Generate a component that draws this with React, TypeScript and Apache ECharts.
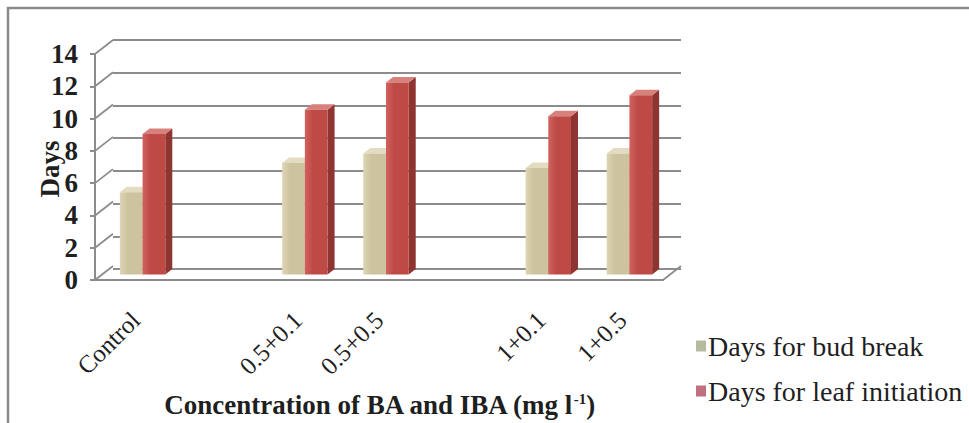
import React, { useEffect, useRef } from "react";
import * as echarts from "echarts";

// Treatments (empty slots keep the gaps between treatment groups)
const categories = ["Control", "", "0.5+0.1", "0.5+0.5", "", "1+0.1", "1+0.5"];
const budBreak = [5.1, null, 6.9, 7.5, null, 6.6, 7.5];
const leafInitiation = [8.7, null, 10.2, 11.9, null, 9.8, 11.1];
const yTicks = [0, 2, 4, 6, 8, 10, 12, 14];
const seriesNames = ["Days for bud break", "Days for leaf initiation"];

const SERIF = "'Liberation Serif', 'Times New Roman', serif";
const GRID_GRAY = "#8c8c8c";
const INK = "#1f1f1f";

// Depth of the back wall relative to the front plane
const WALL_DX = 18;
const WALL_DY = -14;
// Where the bars stand inside that depth, and how deep each bar is
const BAR_SHIFT_X = 7;
const BAR_SHIFT_Y = -5.5;
const BAR_DEPTH_X = 7;
const BAR_DEPTH_Y = -5.5;
const BAR_RATIO = 0.28;

type Palette = { front: [string, string]; side: string; top: string; legend: string };

const palettes: Palette[] = [
  { front: ["#ddd5b4", "#cdc39e"], side: "#a89f7e", top: "#e3dcc2", legend: "#b8ba9f" },
  { front: ["#d0625e", "#be4a46"], side: "#8e3431", top: "#d8817c", legend: "#c06f7d" },
];

const toData = (values: (number | null)[]) =>
  values
    .map((v, i) => (v == null ? null : [i, v]))
    .filter((d) => d !== null) as number[][];

const makeBarRenderer = (slot: number, pal: Palette) => (params: any, api: any) => {
  const idx = api.value(0);
  const v = api.value(1);
  const base = api.coord([idx, 0]);
  const top = api.coord([idx, v]);
  const band = api.size([1, 0])[0];
  const w = band * BAR_RATIO;
  const cx = base[0] + BAR_SHIFT_X;
  const x0 = slot === 0 ? cx - w : cx;
  const x1 = x0 + w;
  const yb = base[1] + BAR_SHIFT_Y;
  const yt = top[1] + BAR_SHIFT_Y;
  return {
    type: "group",
    children: [
      {
        type: "polygon",
        shape: {
          points: [
            [x1, yb],
            [x1 + BAR_DEPTH_X, yb + BAR_DEPTH_Y],
            [x1 + BAR_DEPTH_X, yt + BAR_DEPTH_Y],
            [x1, yt],
          ],
        },
        style: { fill: pal.side },
      },
      {
        type: "polygon",
        shape: {
          points: [
            [x0, yt],
            [x1, yt],
            [x1 + BAR_DEPTH_X, yt + BAR_DEPTH_Y],
            [x0 + BAR_DEPTH_X, yt + BAR_DEPTH_Y],
          ],
        },
        style: { fill: pal.top },
      },
      {
        type: "rect",
        shape: { x: x0, y: yt, width: w, height: yb - yt },
        style: {
          fill: new echarts.graphic.LinearGradient(0, 0, 1, 0, [
            { offset: 0, color: pal.front[0] },
            { offset: 0.35, color: pal.front[1] },
            { offset: 1, color: pal.front[1] },
          ]),
        },
      },
    ],
  };
};

// Slanted lines joining the front axis ticks to the back wall, plus the floor edge
const renderWallEdges = (params: any, api: any) => {
  const v = api.value(1);
  const y = api.coord([0, v])[1];
  const cs = params.coordSys;
  const x = cs.x;
  const style = { stroke: GRID_GRAY, lineWidth: 1.8 };
  const children: any[] = [
    { type: "line", shape: { x1: x, y1: y, x2: x + WALL_DX, y2: y + WALL_DY }, style },
  ];
  if (v === 0) {
    const xr = cs.x + cs.width;
    children.push({
      type: "line",
      shape: { x1: xr, y1: y, x2: xr + WALL_DX, y2: y + WALL_DY },
      style,
    });
  }
  return { type: "group", children };
};

export default function App() {
  const ref = useRef<HTMLDivElement>(null);

  useEffect(() => {
    if (!ref.current) return;
    const chart = echarts.init(ref.current, undefined, { renderer: "svg" });

    const front = { left: 95, right: 306, top: 54, bottom: 140 };
    const back = {
      left: front.left + WALL_DX,
      right: front.right - WALL_DX,
      top: front.top + WALL_DY,
      bottom: front.bottom - WALL_DY,
    };

    chart.setOption({
      animation: false,
      backgroundColor: "#ffffff",
      grid: [
        { ...front, containLabel: false },
        { ...back, containLabel: false },
      ],
      xAxis: [
        {
          type: "category",
          gridIndex: 0,
          data: categories,
          boundaryGap: true,
          axisLine: { lineStyle: { color: GRID_GRAY, width: 2 } },
          axisTick: { show: false },
          axisLabel: {
            interval: 0,
            rotate: 45,
            margin: 36,
            fontSize: 25,
            fontFamily: SERIF,
            color: INK,
          },
          name: "{t|Concentration of BA and IBA (mg l}{s|-1}{t|)}",
          nameLocation: "middle",
          nameGap: 111,
          nameTextStyle: {
            rich: {
              t: { fontSize: 27, fontWeight: "bold", fontFamily: SERIF, color: INK },
              s: {
                fontSize: 15,
                fontWeight: "bold",
                fontFamily: SERIF,
                color: INK,
                verticalAlign: "top",
              },
            },
          },
        },
        { type: "value", gridIndex: 1, show: false, min: 0, max: 1 },
      ],
      yAxis: [
        {
          type: "value",
          gridIndex: 0,
          min: 0,
          max: 14,
          interval: 2,
          axisLine: { show: true, lineStyle: { color: GRID_GRAY, width: 2 } },
          axisTick: { show: true, length: 5, lineStyle: { color: GRID_GRAY, width: 2 } },
          splitLine: { show: false },
          axisLabel: {
            margin: 17,
            fontSize: 27,
            fontWeight: "bold",
            fontFamily: SERIF,
            color: INK,
          },
        },
        {
          type: "value",
          gridIndex: 1,
          min: 0,
          max: 14,
          interval: 2,
          axisLine: { show: false },
          axisTick: { show: false },
          axisLabel: { show: false },
          splitLine: { show: true, lineStyle: { color: GRID_GRAY, width: 2 } },
        },
      ],
      legend: {
        orient: "vertical",
        left: 691,
        top: 327,
        itemWidth: 10,
        itemHeight: 11,
        itemGap: 17,
        icon: "rect",
        textStyle: { fontSize: 28, fontFamily: SERIF, color: INK, padding: [0, 0, 0, -3] },
        data: seriesNames.map((name, i) => ({ name, itemStyle: { color: palettes[i].legend } })),
      },
      graphic: [
        {
          type: "rect",
          shape: { x: 8, y: 8, width: 990, height: 440 },
          style: { fill: "none", stroke: "#8a8a8a", lineWidth: 2.5 },
          silent: true,
        },
        {
          type: "text",
          x: 50,
          y: 169,
          rotation: Math.PI / 2,
          style: {
            text: "Days",
            fontSize: 27,
            fontWeight: "bold",
            fontFamily: SERIF,
            fill: INK,
            align: "center",
            verticalAlign: "middle",
          },
          silent: true,
        },
      ],
      series: [
        {
          type: "custom",
          name: "wall",
          xAxisIndex: 0,
          yAxisIndex: 0,
          silent: true,
          renderItem: renderWallEdges,
          data: yTicks.map((v) => [0, v]),
          encode: { x: 0, y: 1 },
          z: 1,
        },
        ...[budBreak, leafInitiation].map((values, i) => ({
          type: "custom",
          name: seriesNames[i],
          xAxisIndex: 0,
          yAxisIndex: 0,
          itemStyle: { color: palettes[i].legend },
          renderItem: makeBarRenderer(i, palettes[i]),
          data: toData(values),
          encode: { x: 0, y: 1 },
          z: 2 + i,
        })),
      ],
    });

    return () => chart.dispose();
  }, []);

  return (
    <div
      ref={ref}
      style={{ position: "fixed", left: 0, top: 0, width: 969, height: 423, background: "#fff" }}
    />
  );
}
